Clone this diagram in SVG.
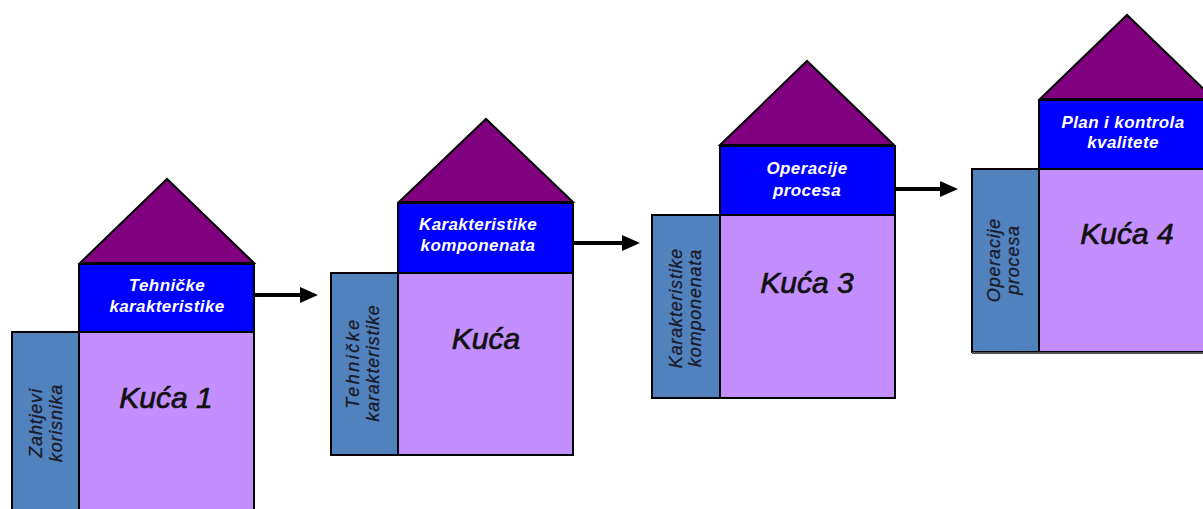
<svg xmlns="http://www.w3.org/2000/svg" width="1203" height="509" viewBox="0 0 1203 509">
<defs>
<style>
.roof{fill:#800080;stroke:#000;stroke-width:2}
.head{fill:#0000FF;stroke:#000;stroke-width:2}
.main{fill:#C38FFF;stroke:#000;stroke-width:2}
.side{fill:#5282BE;stroke:#000;stroke-width:2}
.ht{font-family:"Liberation Sans",Arial,sans-serif;font-weight:bold;font-style:italic;font-size:17px;letter-spacing:0.4px;fill:#fff;text-anchor:middle}
.kt{font-family:"Liberation Sans",Arial,sans-serif;font-style:italic;font-size:30px;fill:#111;stroke:#111;stroke-width:0.7;text-anchor:middle}
.st{font-family:"Liberation Sans",Arial,sans-serif;font-style:italic;font-size:18px;letter-spacing:0.8px;fill:#1a1a2a;stroke:#1a1a2a;stroke-width:0.3;text-anchor:middle}
.conn{stroke:#000;stroke-width:4;fill:none}
</style>
<marker id="ah" markerWidth="4.5" markerHeight="4" refX="3.5" refY="2" orient="auto" markerUnits="strokeWidth">
<path d="M0,0 L4.5,2 L0,4 z" fill="#000"/>
</marker>
</defs>
<rect width="1203" height="509" fill="#fff"/>

<g id="house1">
<polygon class="roof" points="80,263 167,179 254,263"/>
<rect class="head" x="79" y="264" width="175" height="68"/>
<rect class="side" x="12" y="332" width="67" height="180"/>
<rect class="main" x="79" y="332" width="175" height="180"/>
<text class="ht" x="167" y="291">Tehničke</text>
<text class="ht" x="167" y="312">karakteristike</text>
<text class="kt" x="166" y="408">Kuća 1</text>
<text class="st" transform="rotate(-90)" x="-423" y="42">Zahtjevi</text>
<text class="st" transform="rotate(-90)" x="-423" y="62">korisnika</text>
</g>

<g id="house2">
<polygon class="roof" points="399,202 486,119 573,202"/>
<rect class="head" x="398" y="203" width="175" height="70"/>
<rect class="side" x="331" y="273" width="67" height="182"/>
<rect class="main" x="398" y="273" width="175" height="182"/>
<text class="ht" x="478" y="230">Karakteristike</text>
<text class="ht" x="478" y="251">komponenata</text>
<text class="kt" x="486" y="349">Kuća</text>
<text class="st" transform="rotate(-90)" x="-363" y="359" style="letter-spacing:2.5px">Tehničke</text>
<text class="st" transform="rotate(-90)" x="-363" y="379">karakteristike</text>
</g>

<g id="house3">
<polygon class="roof" points="720,145 807,61 894,145"/>
<rect class="head" x="720" y="146" width="175" height="69"/>
<rect class="side" x="652" y="215" width="68" height="183"/>
<rect class="main" x="720" y="215" width="175" height="183"/>
<text class="ht" x="807" y="174">Operacije</text>
<text class="ht" x="807" y="196">procesa</text>
<text class="kt" x="807" y="293">Kuća 3</text>
<text class="st" transform="rotate(-90)" x="-308" y="682">Karakteristike</text>
<text class="st" transform="rotate(-90)" x="-308" y="701">komponenata</text>
</g>

<g id="house4">
<polygon class="roof" points="1040,99 1127,15 1214,99"/>
<rect class="head" x="1039" y="100" width="175" height="69"/>
<rect class="side" x="972" y="169" width="67" height="183"/>
<rect class="main" x="1039" y="169" width="175" height="183"/>
<line x1="972" y1="353" x2="1203" y2="353" stroke="#555" stroke-width="2"/>
<text class="ht" x="1123" y="128">Plan i kontrola</text>
<text class="ht" x="1123" y="148">kvalitete</text>
<text class="kt" x="1127" y="244">Kuća 4</text>
<text class="st" transform="rotate(-90)" x="-260" y="1000">Operacije</text>
<text class="st" transform="rotate(-90)" x="-260" y="1019">procesa</text>
</g>

<g id="connectors">
<line class="conn" x1="255" y1="295" x2="314" y2="295" marker-end="url(#ah)"/>
<line class="conn" x1="574" y1="243" x2="636" y2="243" marker-end="url(#ah)"/>
<line class="conn" x1="895" y1="189" x2="954" y2="189" marker-end="url(#ah)"/>
</g>
</svg>
